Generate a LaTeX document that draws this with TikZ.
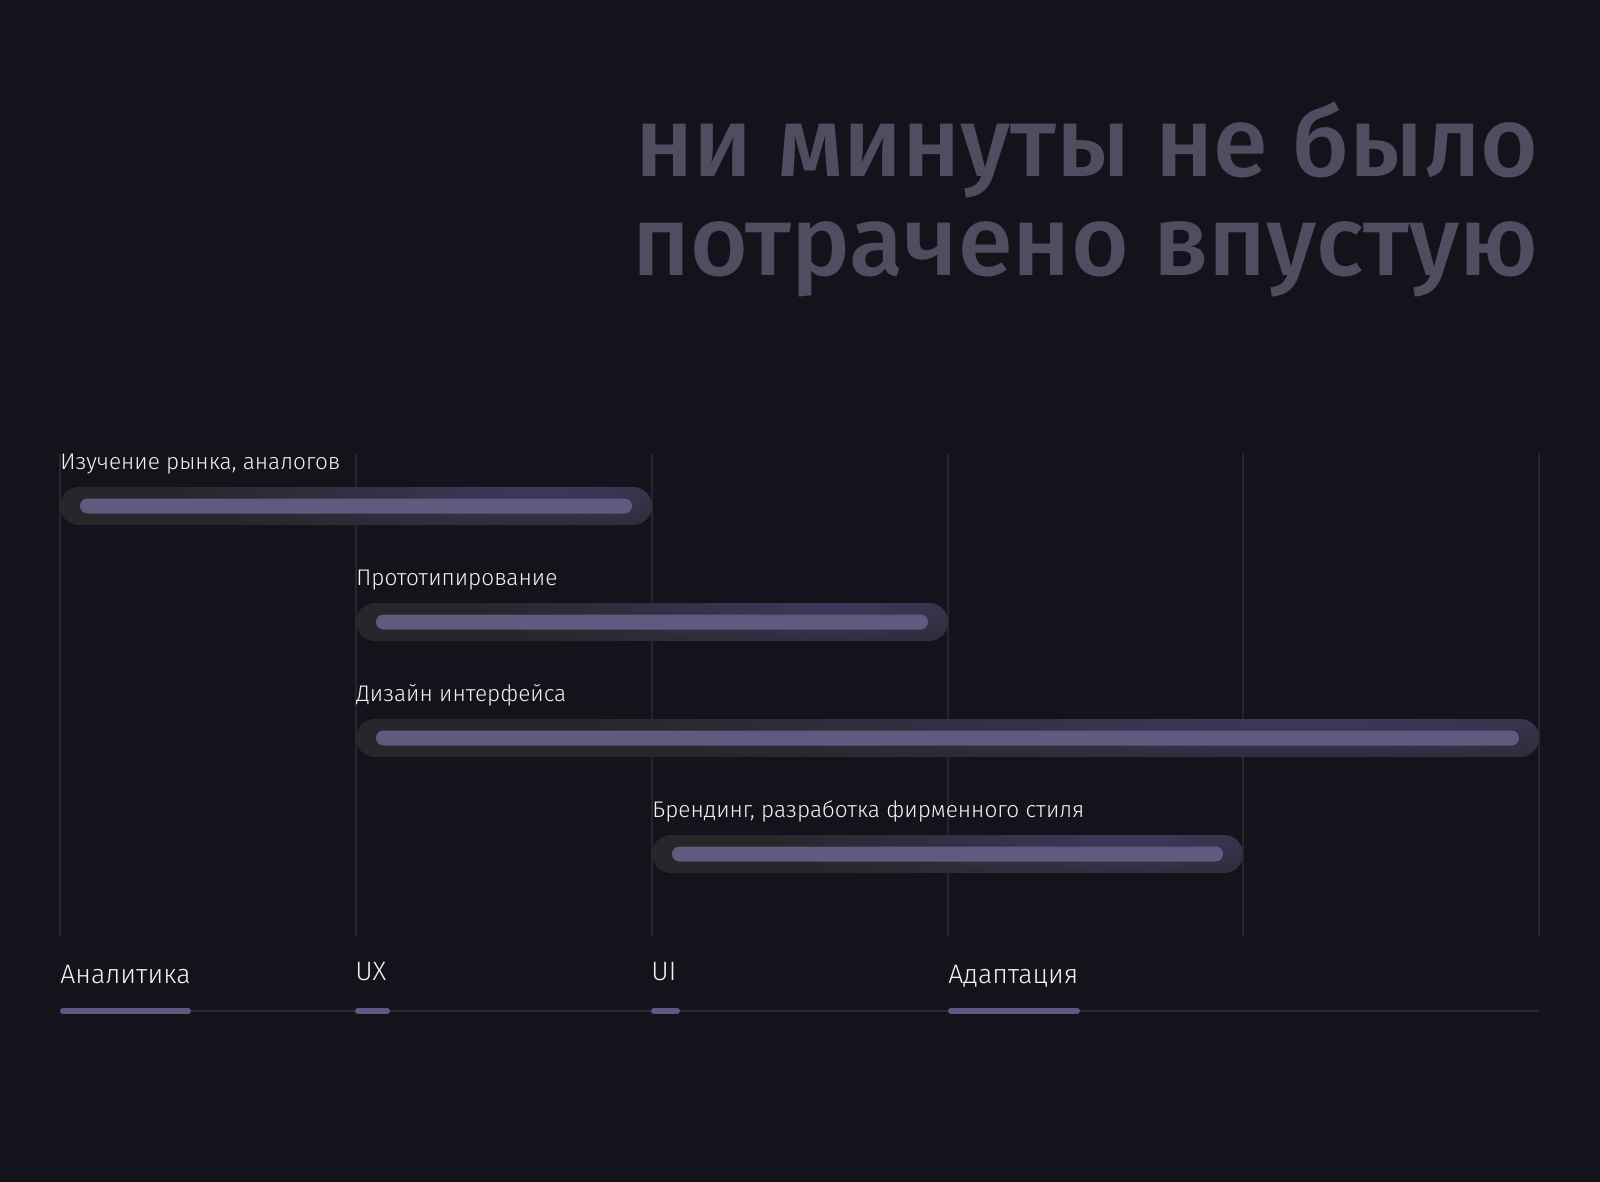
\documentclass[tikz,border=0pt]{standalone}
\usepackage{fontspec}
\setmainfont{Fira Sans}
\newfontfamily\lightfont{Fira Sans Light}
\newfontfamily\headfont{Fira Sans Medium}
\definecolor{bgc}{HTML}{12131B}
\definecolor{headc}{HTML}{4E4E60}
\definecolor{gridc}{HTML}{25262F}
\definecolor{outerc}{HTML}{27272B}
\definecolor{glowc}{HTML}{41375C}
\definecolor{innerc}{HTML}{615A80}
\definecolor{axisc}{HTML}{2A2A38}
\definecolor{markc}{HTML}{5F5880}
\definecolor{txtc}{HTML}{F2F2F5}
\newcommand\gbar[5]{%
  \begin{scope}
    \clip[rounded corners=9.5pt] (#1,#3-19) rectangle (#2,#3+19);
    \fill[outerc] (#1,#3-19) rectangle (#2,#3+19);
    \shade[inner color=glowc, outer color=outerc] ({#1+0.8*(#2-#1)},#3-19) ellipse [x radius={0.6*(#2-#1)}, y radius=60];
  \end{scope}
  \fill[innerc, rounded corners=3.75pt] (#1+20,#3-7.5) rectangle (#2-20,#3+7.5);
  \node[barlabel] (#4) at (#1,#3-37) {#5};
}
\begin{document}
\begin{tikzpicture}[x=0.5pt,y=-0.5pt,
  gridline/.style={draw=gridc, line width=0.6pt},
  barlabel/.style={anchor=base west, inner sep=0pt, text=txtc, font=\lightfont\fontsize{11.3}{13}\selectfont},
  axislabel/.style={anchor=base west, inner sep=0pt, text=txtc, font=\lightfont\fontsize{13.3}{15}\selectfont},
  headline/.style={anchor=base east, inner sep=0pt, text=headc, font=\headfont\fontsize{49.5}{50}\selectfont},
  axisline/.style={draw=axisc, line width=1pt},
  axismark/.style={draw=markc, line width=3pt, line cap=round}]
\fill[bgc] (0,0) rectangle (1600,1182);
\useasboundingbox (0,0) rectangle (1600,1182);
% heading
\node[headline] (h1) at (1539,177) {ни минуты не было};
\node[headline] (h2) at (1539,276) {потрачено впустую};
% grid
\foreach \gx in {60,356,652,948,1243,1539}
  \draw[gridline] (\gx,454) -- (\gx,937);
% bars
\gbar{60}{652}{506}{b1}{Изучение рынка, аналогов}
\gbar{356}{948}{622}{b2}{Прототипирование}
\gbar{356}{1539}{738}{b3}{Дизайн интерфейса}
\gbar{652}{1243}{854}{b4}{Брендинг, разработка фирменного стиля}
% axis
\coordinate (a0) at (60,1011);
\coordinate (a1) at (1539,1011);
\draw[axisline] (a0) -- (a1);
\coordinate (m1s) at (63,1011); \coordinate (m1e) at (188,1011);
\coordinate (m2s) at (358,1011); \coordinate (m2e) at (387,1011);
\coordinate (m3s) at (654,1011); \coordinate (m3e) at (677,1011);
\coordinate (m4s) at (951,1011); \coordinate (m4e) at (1077,1011);
\draw[axismark] (m1s) -- (m1e);
\draw[axismark] (m2s) -- (m2e);
\draw[axismark] (m3s) -- (m3e);
\draw[axismark] (m4s) -- (m4e);
\node[axislabel] (l1) at (60,983) {Аналитика};
\node[axislabel] (l2) at (355,980) {UX};
\node[axislabel] (l3) at (651,980) {UI};
\node[axislabel] (l4) at (948,983) {Адаптация};
\end{tikzpicture}
\end{document}
